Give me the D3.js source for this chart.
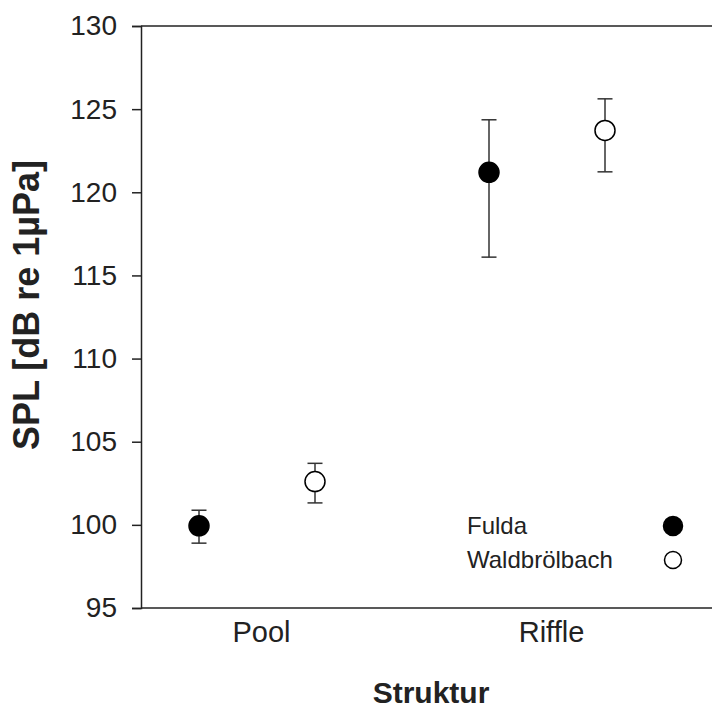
<!DOCTYPE html>
<html>
<head>
<meta charset="utf-8">
<script src="https://cdn.jsdelivr.net/npm/d3@7"></script>
<style>
  body { margin: 0; background: #fff; }
  svg { display: block; }
  svg text { font-family: Arial, "Liberation Sans", sans-serif; }
</style>
</head>
<body>
<div id="chart"></div>
<script>
var width = 712,
height = 716;

var categories = ["Pool", "Riffle"];
var seriesNames = ["Fulda", "Waldbrölbach"];
var fuldaMean = [99.94, 121.2];
var fuldaLow = [98.9, 116.1];
var fuldaHigh = [100.88, 124.36];
var waldMean = [102.6, 123.72];
var waldLow = [101.32, 121.23];
var waldHigh = [103.7, 125.62];
var yTicks = [95, 100, 105, 110, 115, 120, 125, 130];

var margin = {left: 141, top: 26, bottom: 108};

var y = d3.scaleLinear()
  .domain([95, 130])
  .range([height - margin.bottom, margin.top]);

var x = d3.scalePoint()
  .domain(categories)
  .range([257, 547]);

var offset = d3.scalePoint()
  .domain(seriesNames)
  .range([-58, 58]);

var svg = d3.select("#chart").append("svg")
  .attr("width", width)
  .attr("height", height);

// frame (right side runs off the picture)
svg.append("line")
  .attr("x1", margin.left).attr("x2", width + 5)
  .attr("y1", y(130)).attr("y2", y(130))
  .attr("stroke", "#222").attr("stroke-width", 1.5);

var yAxis = svg.append("g")
  .attr("transform", "translate(" + margin.left + ",0)")
  .call(d3.axisLeft(y).tickValues(yTicks).tickSize(9).tickPadding(15));
yAxis.attr("font-family", null);
yAxis.select(".domain").attr("stroke", "#222").attr("stroke-width", 1.5);
yAxis.selectAll(".tick line").attr("stroke", "#222").attr("stroke-width", 1.5);
yAxis.selectAll("text")
  .style("font-size", "28px")
  .attr("fill", "#222");

var xAxis = svg.append("g")
  .attr("transform", "translate(0," + y(95) + ")")
  .call(d3.axisBottom(x).tickSize(0).tickPadding(13));
xAxis.attr("font-family", null);
xAxis.select(".domain")
  .attr("d", "M" + margin.left + ",0H" + (width + 5))
  .attr("stroke", "#222").attr("stroke-width", 1.5);
xAxis.selectAll("text")
  .style("font-size", "29px")
  .attr("dx", 4)
  .attr("fill", "#222");

var rows = [];
categories.forEach(function(c, i) {
  rows.push({cat: c, s: "Fulda", m: fuldaMean[i], lo: fuldaLow[i], hi: fuldaHigh[i]});
  rows.push({cat: c, s: "Waldbrölbach", m: waldMean[i], lo: waldLow[i], hi: waldHigh[i]});
});

var pts = svg.selectAll("g.pt")
  .data(rows)
  .enter().append("g")
  .attr("class", "pt")
  .attr("transform", function(d) { return "translate(" + (x(d.cat) + offset(d.s)) + ",0)"; });

pts.append("line")
  .attr("y1", function(d) { return y(d.lo); })
  .attr("y2", function(d) { return y(d.hi); })
  .attr("stroke", "#333").attr("stroke-width", 1.5);

pts.selectAll("line.cap")
  .data(function(d) { return [d.lo, d.hi]; })
  .enter().append("line")
  .attr("class", "cap")
  .attr("x1", -7.5).attr("x2", 7.5)
  .attr("y1", function(v) { return y(v); })
  .attr("y2", function(v) { return y(v); })
  .attr("stroke", "#333").attr("stroke-width", 1.5);

pts.append("circle")
  .attr("cy", function(d) { return y(d.m); })
  .attr("r", 10)
  .attr("fill", function(d) { return d.s == "Fulda" ? "#000" : "#fff"; })
  .attr("stroke", "#000")
  .attr("stroke-width", 1.5);

// legend
var legend = svg.selectAll("g.leg")
  .data(seriesNames)
  .enter().append("g")
  .attr("class", "leg")
  .attr("transform", function(d, i) { return "translate(0," + (526 + i * 34) + ")"; });

legend.append("text")
  .attr("x", 467)
  .attr("dy", "0.35em")
  .style("font-size", "24px")
  .attr("fill", "#222")
  .text(function(d) { return d; });

legend.append("circle")
  .attr("cx", 673)
  .attr("r", function(d, i) { return i == 0 ? 9.5 : 8.5; })
  .attr("fill", function(d, i) { return i == 0 ? "#000" : "#fff"; })
  .attr("stroke", "#000")
  .attr("stroke-width", 1.5);

// axis titles
svg.append("text")
  .attr("transform", "translate(39,305) rotate(-90)")
  .style("text-anchor", "middle")
  .style("font-size", "36px")
  .style("font-weight", "bold")
  .attr("fill", "#222")
  .text("SPL [dB re 1µPa]");

svg.append("text")
  .attr("x", 431)
  .attr("y", 703)
  .style("text-anchor", "middle")
  .style("font-size", "30px")
  .style("font-weight", "bold")
  .attr("fill", "#222")
  .text("Struktur");
</script>
</body>
</html>
